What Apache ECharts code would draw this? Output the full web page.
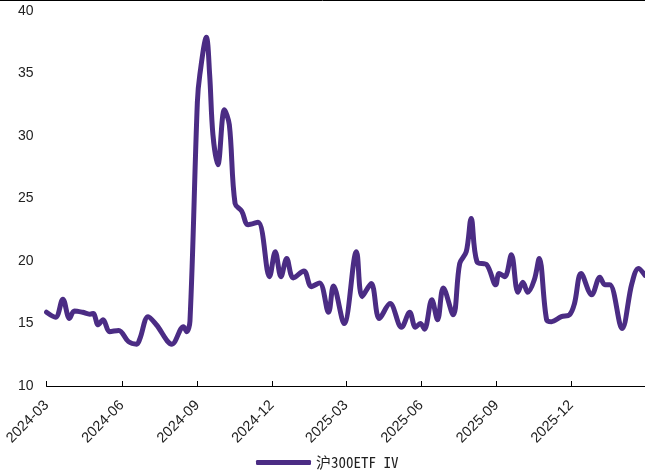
<!DOCTYPE html>
<html>
<head>
<meta charset="utf-8">
<style>
  html, body { margin: 0; padding: 0; background: #fff; }
  #chart { width: 645px; height: 472px; }
</style>
<script src="https://cdn.jsdelivr.net/npm/echarts@6/dist/echarts.min.js"></script>
</head>
<body>
<div id="chart"></div>
<script>
// 沪300ETF 隐含波动率，按图读取的转折点
const dates = [
  '2024-03-01', '2024-03-12', '2024-03-21', '2024-03-29', '2024-04-04', '2024-04-14',
  '2024-04-23', '2024-04-27', '2024-05-03', '2024-05-09', '2024-05-17', '2024-05-28',
  '2024-06-09', '2024-06-19', '2024-06-23', '2024-07-03', '2024-07-13', '2024-08-01',
  '2024-08-15', '2024-08-19', '2024-08-23', '2024-09-01', '2024-09-04', '2024-09-12',
  '2024-09-16', '2024-09-20', '2024-09-26', '2024-10-04', '2024-10-10', '2024-10-17',
  '2024-10-25', '2024-11-02', '2024-11-14', '2024-11-28', '2024-12-05', '2024-12-12',
  '2024-12-19', '2024-12-27', '2025-01-09', '2025-01-18', '2025-01-28', '2025-02-08',
  '2025-02-14', '2025-02-27', '2025-03-14', '2025-03-21', '2025-04-01', '2025-04-11',
  '2025-04-24', '2025-05-08', '2025-05-18', '2025-05-25', '2025-05-31', '2025-06-05',
  '2025-06-14', '2025-06-21', '2025-06-28', '2025-07-10', '2025-07-18', '2025-07-26',
  '2025-08-01', '2025-08-08', '2025-08-20', '2025-08-31', '2025-09-04', '2025-09-11',
  '2025-09-19', '2025-09-27', '2025-10-03', '2025-10-09', '2025-10-17', '2025-10-23',
  '2025-11-01', '2025-11-07', '2025-11-19', '2025-11-29', '2025-12-05', '2025-12-13',
  '2025-12-26', '2026-01-05', '2026-01-11', '2026-01-17', '2026-02-01', '2026-02-13',
  '2026-02-21', '2026-03-01'
];
const ivValues = [
  15.9, 15.5, 16.95, 15.4, 16.0, 15.9,
  15.75, 15.8, 14.9, 15.3, 14.35, 14.45,
  13.55, 13.35, 13.8, 15.55, 14.9, 13.35,
  14.75, 14.35, 15.2, 32.7, 34.9, 37.9,
  34.9, 30.1, 27.7, 32.1, 30.9, 24.6,
  24.0, 22.9, 23.1, 18.75, 20.75, 18.75,
  20.2, 18.65, 19.2, 17.95, 18.25, 15.9,
  18.0, 15.0, 20.75, 17.15, 18.2, 15.4,
  16.6, 14.7, 15.9, 14.7, 15.0, 14.55,
  16.9, 15.3, 17.85, 15.7, 19.8, 20.75,
  23.4, 19.95, 19.7, 18.1, 19.0, 18.75,
  20.5, 17.5, 18.3, 17.5, 18.5, 20.2,
  15.3, 15.15, 15.55, 15.7, 16.6, 19.0,
  17.3, 18.7, 18.1, 18.1, 14.6, 18.2,
  19.4, 18.85
];
const tickDates = ['2024-03-01', '2024-06-01', '2024-09-01', '2024-12-01',
                   '2025-03-01', '2025-06-01', '2025-09-01', '2025-12-01'];
const seriesName = '沪300ETF IV';

const lineColor = '#4b2c84';
const toTime = (d) => Date.UTC(+d.slice(0, 4), +d.slice(5, 7) - 1, +d.slice(8, 10));
const tickValues = tickDates.map(toTime);

const fmtMonth = (v) => {
  let dt = new Date(v);
  let m = dt.getUTCMonth() + 1;
  return dt.getUTCFullYear() + '-' + (m < 10 ? '0' + m : m);
};

let chart = echarts.init(document.getElementById('chart'));

chart.setOption({
  animation: false,
  grid: { left: 46.5, right: 0, top: 11, bottom: 86, containLabel: false },
  legend: {
    data: [seriesName],
    left: 251,
    top: 450,
    icon: 'roundRect',
    itemWidth: 55,
    itemHeight: 5,
    itemGap: 5,
    textStyle: { fontFamily: 'Noto Sans Mono CJK SC, Noto Sans CJK SC', fontSize: 15, color: '#222' }
  },
  xAxis: {
    type: 'value',
    min: toTime('2024-03-01'),
    max: toTime('2026-03-01'),
    axisLine: { show: true, onZero: false, lineStyle: { color: '#000', width: 1 } },
    axisTick: { show: true, inside: true, length: 5, customValues: tickValues,
                lineStyle: { color: '#000' } },
    axisLabel: {
      customValues: tickValues,
      rotate: 45,
      margin: 17,
      fontFamily: 'Liberation Sans',
      fontSize: 14.5,
      color: '#222',
      formatter: fmtMonth
    },
    splitLine: { show: false }
  },
  yAxis: {
    type: 'value',
    min: 10,
    max: 40,
    interval: 5,
    axisLine: { show: false },
    axisTick: { show: false },
    splitLine: { show: false },
    axisLabel: { margin: 13, fontFamily: 'Liberation Sans', fontSize: 14, color: '#222' }
  },
  graphic: [{
    type: 'line',
    shape: { x1: 0, y1: 0.5, x2: 645, y2: 0.5 },
    style: { stroke: '#000', lineWidth: 1 }
  }],
  series: [{
    name: seriesName,
    type: 'line',
    smooth: 0.35,
    showSymbol: false,
    lineStyle: { color: lineColor, width: 5, cap: 'round', join: 'round' },
    itemStyle: { color: lineColor },
    data: dates.map((d, i) => [toTime(d), ivValues[i]])
  }]
});
</script>
</body>
</html>
